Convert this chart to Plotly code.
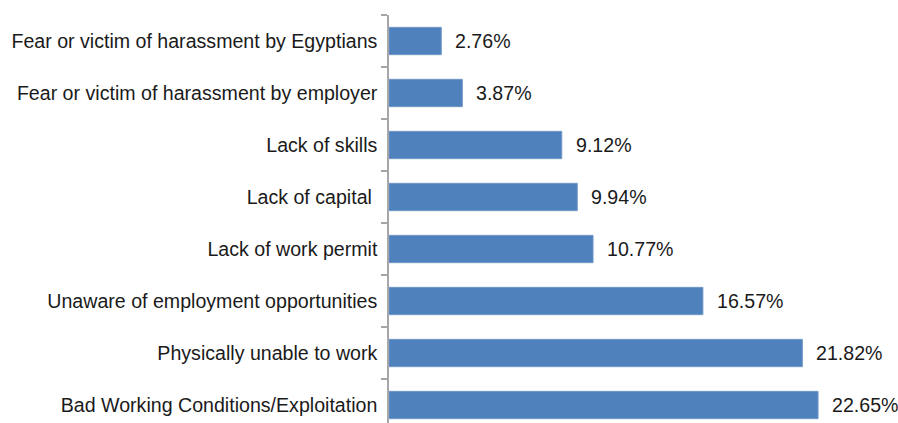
import plotly.graph_objects as go

# Reasons for not working, listed top to bottom
reasons = [
    "Fear or victim of harassment by Egyptians",
    "Fear or victim of harassment by employer",
    "Lack of skills",
    "Lack of capital ",
    "Lack of work permit",
    "Unaware of employment opportunities",
    "Physically unable to work",
    "Bad Working Conditions/Exploitation",
]
shares = [2.76, 3.87, 9.12, 9.94, 10.77, 16.57, 21.82, 22.65]
share_labels = ["2.76%", "3.87%", "9.12%", "9.94%", "10.77%", "16.57%", "21.82%", "22.65%"]

FONT = "Liberation Sans, Arial, sans-serif"
TEXT_COLOR = "#1a1a1a"

fig = go.Figure(
    go.Bar(
        x=shares,
        y=reasons,
        orientation="h",
        width=0.525,
        marker=dict(color="#4F81BD", line=dict(color="#6F97C8", width=1)),
        hoverinfo="skip",
    )
)

for reason, share, label in zip(reasons, shares, share_labels):
    fig.add_annotation(
        x=share,
        y=reason,
        text=label,
        showarrow=False,
        xanchor="left",
        yanchor="middle",
        xshift=12,
        font=dict(family=FONT, size=19.6, color=TEXT_COLOR),
    )

fig.update_layout(
    width=898,
    height=423,
    margin=dict(l=389, r=0, t=15, b=0),
    paper_bgcolor="white",
    plot_bgcolor="white",
    showlegend=False,
    font=dict(family=FONT, size=19.6, color=TEXT_COLOR),
)

fig.update_xaxes(
    range=[0, 26.87],
    visible=False,
    showgrid=False,
    zeroline=False,
)

fig.update_yaxes(
    type="category",
    categoryorder="array",
    categoryarray=reasons,
    range=[7.346, -0.5],
    showline=True,
    linecolor="#A6A6A6",
    linewidth=1.5,
    ticks="outside",
    tickson="boundaries",
    ticklen=6,
    tickcolor="#A6A6A6",
    tickwidth=1.5,
    ticklabelstandoff=6,
    showgrid=False,
    zeroline=False,
    tickfont=dict(family=FONT, size=19.6, color=TEXT_COLOR),
)

fig.write_html("out.html")
